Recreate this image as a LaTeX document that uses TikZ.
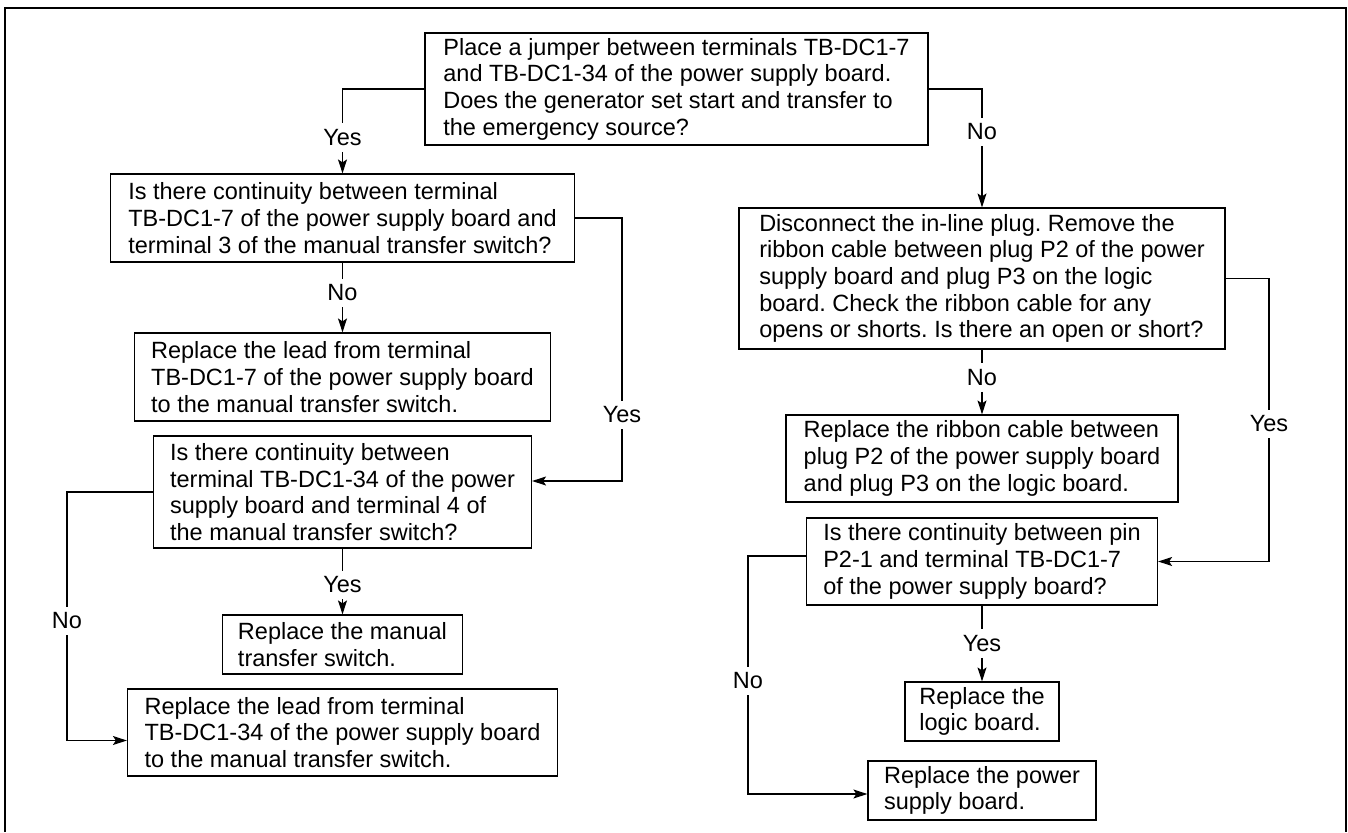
\documentclass[tikz,border=0pt]{standalone}
\usepackage{fontspec}
\setmainfont{Liberation Sans}
\frenchspacing
\usetikzlibrary{arrows.meta,calc}
\begin{document}
\begin{tikzpicture}[x=1pt,y=-1pt,
  every node/.style={font=\fontsize{23.5pt}{26.7pt}\selectfont},
  box/.style={draw,line width=1.2pt,align=left,inner xsep=0pt,inner ysep=0pt},
  lbl/.style={inner xsep=2pt,inner ysep=6pt},
  conn/.style={line width=1.2pt},
  arr/.style={line width=1.2pt,-{Stealth[length=14pt,width=9pt,inset=3pt]}}]
\useasboundingbox (0,0) rectangle (1348,832);
\draw[line width=2.5pt] (5,832) -- (5,8) -- (1346,8) -- (1346,832);

\node[box,minimum width=503pt,minimum height=112pt] (A) at (676.5,89)
  {Place a jumper between terminals TB-DC1-7\\and TB-DC1-34 of the power supply board.\\Does the generator set start and transfer to\\the emergency source?};
\node[box,minimum width=464pt,minimum height=88pt] (B) at (342.5,218)
  {Is there continuity between terminal\\TB-DC1-7 of the power supply board and\\terminal 3 of the manual transfer switch?};
\node[box,minimum width=416pt,minimum height=88pt] (C) at (342.5,377)
  {Replace the lead from terminal\\TB-DC1-7 of the power supply board\\to the manual transfer switch.};
\node[box,minimum width=378pt,minimum height=112pt] (D) at (342.5,492)
  {Is there continuity between\\terminal TB-DC1-34 of the power\\supply board and terminal 4 of\\the manual transfer switch?};
\node[box,minimum width=240pt,minimum height=59pt] (E) at (342.5,644.5)
  {Replace the manual\\transfer switch.};
\node[box,minimum width=430pt,minimum height=87pt] (F) at (342.5,732.5)
  {Replace the lead from terminal\\TB-DC1-34 of the power supply board\\to the manual transfer switch.};
\node[box,minimum width=486pt,minimum height=141pt] (G) at (982,278.5)
  {Disconnect the in-line plug. Remove the\\ribbon cable between plug P2 of the power\\supply board and plug P3 on the logic\\board. Check the ribbon cable for any\\opens or shorts. Is there an open or short?};
\node[box,minimum width=392pt,minimum height=87pt] (H) at (982,458.5)
  {Replace the ribbon cable between\\plug P2 of the power supply board\\and plug P3 on the logic board.};
\node[box,minimum width=351pt,minimum height=87pt] (I) at (982,561.5)
  {Is there continuity between pin\\P2-1 and terminal TB-DC1-7\\of the power supply board?};
\node[box,minimum width=154pt,minimum height=59pt] (J) at (982,711.5)
  {Replace the\\logic board.};
\node[box,minimum width=228pt,minimum height=59pt] (K) at (982,790.5)
  {Replace the power\\supply board.};

% labels
\node[lbl] (ly1) at (342.5,137.5) {Yes};
\node[lbl] (ln1) at (982,132) {No};
\node[lbl] (ln2) at (342.5,293) {No};
\node[lbl] (ly2) at (622,415) {Yes};
\node[lbl] (ln3) at (67,621) {No};
\node[lbl] (ly3) at (342.5,585) {Yes};
\node[lbl] (ln4) at (982,377.5) {No};
\node[lbl] (ly4) at (1269,424) {Yes};
\node[lbl] (ln5) at (748,681) {No};
\node[lbl] (ly5) at (982,643.5) {Yes};

% connectors
\draw[conn] (A.west) -| (ly1.north);
\draw[arr] (ly1.south) -- (B.north);
\draw[conn] (A.east) -| (ln1.north);
\draw[arr] (ln1.south) -- (G.north);
\draw[conn] (B.south) -- (ln2.north);
\draw[arr] (ln2.south) -- (C.north);
\draw[conn] (B.east) -| (ly2.north);
\draw[arr] (ly2.south) |- ([yshift=11pt]D.east);
\draw[conn] (D.west) -| (ln3.north);
\draw[arr] (ln3.south) |- ([yshift=-8pt]F.west);
\draw[conn] (D.south) -- (ly3.north);
\draw[arr] (ly3.south) -- (E.north);
\draw[conn] (G.south) -- (ln4.north);
\draw[arr] (ln4.south) -- (H.north);
\draw[conn] (G.east) -| (ly4.north);
\draw[arr] (ly4.south) |- (I.east);
\draw[conn] ([yshift=5.5pt]I.west) -| (ln5.north);
\draw[arr] (ln5.south) |- ([yshift=-3.5pt]K.west);
\draw[conn] (I.south) -- (ly5.north);
\draw[arr] (ly5.south) -- (J.north);
\end{tikzpicture}
\end{document}
